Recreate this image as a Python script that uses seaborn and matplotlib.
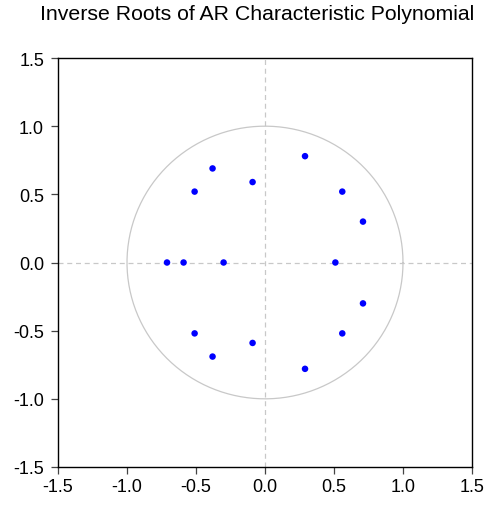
import numpy as np
import pandas as pd
import matplotlib
matplotlib.use("Agg")
import matplotlib.pyplot as plt
import seaborn as sns

# inverse roots (real, imaginary)
real_part = [-0.71, -0.59, -0.30, 0.51,
             -0.51, -0.38, -0.09, 0.29, 0.56, 0.71,
             -0.51, -0.38, -0.09, 0.29, 0.56, 0.71]
imag_part = [0.0, 0.0, 0.0, 0.0,
             0.52, 0.69, 0.59, 0.78, 0.52, 0.30,
             -0.52, -0.69, -0.59, -0.78, -0.52, -0.30]
tick_values = [-1.5, -1.0, -0.5, 0.0, 0.5, 1.0, 1.5]

roots = pd.DataFrame({"real": real_part, "imag": imag_part})

sns.set_style("white")
plt.rcParams["font.family"] = ["Liberation Sans", "DejaVu Sans"]
plt.rcParams["text.color"] = "black"
plt.rcParams["xtick.labelcolor"] = "black"
plt.rcParams["ytick.labelcolor"] = "black"

fig = plt.figure(figsize=(4.86, 5.06), dpi=100)
ax = fig.add_axes([58 / 486, 1 - 468 / 506, 414 / 486, 409 / 506])

# unit circle and zero lines
theta = np.linspace(0, 2 * np.pi, 400)
ax.plot(np.cos(theta), np.sin(theta), color="#c8c8c8", lw=0.9, zorder=1)
ax.axhline(0, color="#c8c8c8", lw=0.9, ls=(0, (4, 3)), zorder=1)
ax.axvline(0, color="#c8c8c8", lw=0.9, ls=(0, (4, 3)), zorder=1)

sns.scatterplot(data=roots, x="real", y="imag", ax=ax, color="#0000ff",
                s=22, edgecolor="none", zorder=3)

ax.set_xlim(-1.5, 1.5)
ax.set_ylim(-1.5, 1.5)
ax.set_xticks(tick_values)
ax.set_yticks(tick_values)
ax.set_xticklabels([f"{t:.1f}" for t in tick_values])
ax.set_yticklabels([f"{t:.1f}" for t in tick_values])
ax.set_xlabel("")
ax.set_ylabel("")
for sp in ax.spines.values():
    sp.set_color("black")
    sp.set_linewidth(1.0)
ax.tick_params(axis="both", direction="out", length=5, width=0.9,
               color="#444444", labelcolor="black", labelsize=13,
               bottom=True, left=True)
ax.tick_params(axis="x", pad=3)
ax.tick_params(axis="y", pad=5)

fig.text(40 / 486, 1 - 20 / 506, "Inverse Roots of AR Characteristic Polynomial",
         fontsize=15.3, color="black", ha="left", va="baseline")

fig.savefig("out.png", dpi=100)
